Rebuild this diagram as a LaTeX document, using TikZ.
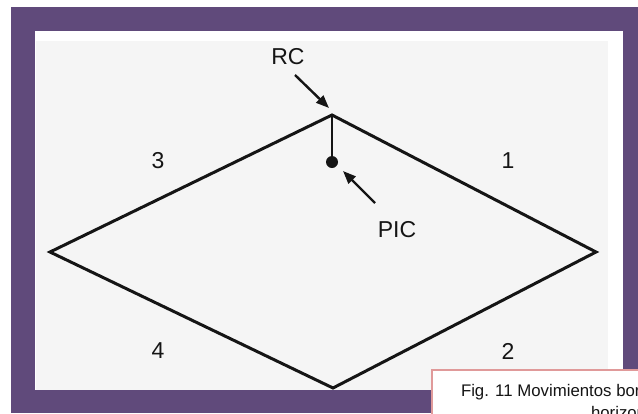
\documentclass[tikz,border=0pt]{standalone}
\usepackage{fontspec}
\setmainfont{Liberation Sans}
\usetikzlibrary{arrows.meta,positioning}

\definecolor{framepurple}{HTML}{604A7B}
\definecolor{sheetgrey}{HTML}{F5F5F5}
\definecolor{captionrose}{HTML}{E09A9A}
\definecolor{ink}{HTML}{151515}

\tikzset{
  sidelabel/.style={text=ink,font=\fontsize{23}{26}\selectfont,inner sep=0pt},
  pointer/.style={draw=ink,line width=2.4pt,-{Triangle[length=13pt,width=10pt]}},
  edge/.style={draw=ink,line width=3pt,line join=miter}
}

\begin{document}
\begin{tikzpicture}[x=1pt,y=-1pt]

\useasboundingbox (0,0) rectangle (638,413);
\clip (0,0) rectangle (638,413);

% frame
\fill[white] (0,0) rectangle (638,413);
\fill[framepurple] (11,7) rectangle (638,413);
\fill[white] (35,31) rectangle (623,390);
\fill[sheetgrey] (36,41) rectangle (608,390);

% rhombus
\coordinate (west) at (50,252);
\coordinate (top) at (332,115);
\coordinate (east) at (596,252);
\coordinate (bottom) at (333,388);
\draw[edge] (west) -- (top) -- (east) -- (bottom) -- cycle;

% centre of rigidity / pressure
\node[circle,fill=ink,inner sep=0pt,minimum size=12pt] (pic) at (332,162) {};
\draw[ink,line width=1.4pt] (top) -- (pic.north);

\node[sidelabel] (rc) at (288,57) {RC};
\node[sidelabel] (piclabel) at (397,230) {PIC};
\coordinate (rc tail) at (295,75);
\coordinate (rc tip) at (329,108);
\coordinate (pic tail) at (375,203);
\coordinate (pic tip) at (343,171);
\draw[pointer] (rc tail) -- (rc tip);
\draw[pointer] (pic tail) -- (pic tip);

% side numbers
\def\sides{3/158/161,1/508/161,4/158/351,2/508/351}
\foreach \n / \x / \y in \sides
  \node[sidelabel] (side\n) at (\x,\y) {\n};

% caption
\node[draw=captionrose,line width=2pt,fill=white,anchor=north west,
      inner xsep=29pt,inner ysep=14pt,align=left,text=ink,
      font=\fontsize{16.8}{22}\selectfont] (caption) at (431,369)
  {Fig. 11 Movimientos bordes\\\hspace*{130pt}horizontales};

\end{tikzpicture}
\end{document}
